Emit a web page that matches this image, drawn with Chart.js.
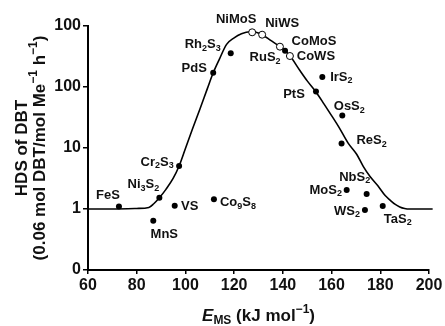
<!DOCTYPE html>
<html>
<head>
<meta charset="utf-8">
<script src="https://cdn.jsdelivr.net/npm/chart.js@4"></script>
<style>
  html, body { margin: 0; padding: 0; background: #fff; }
  #wrap { width: 445px; height: 326px; position: relative; }
</style>
</head>
<body>
<div id="wrap"><canvas id="volcano"></canvas></div>
<script>
// volcano curve (E_MS, HDS activity)
const curveX = [60, 70, 80, 85, 87, 89.3, 92, 95, 97.4, 100, 103, 106, 109, 111.4, 114, 116.9, 120, 123, 126.5, 129, 131.5, 135, 138.8, 140.9, 142.9, 147, 150, 153.6, 157, 160, 163, 166.8, 170.3, 173, 175.8, 179, 182, 184, 186, 188, 190, 192, 201.5];
const curveY = [1, 1, 1.02, 1.06, 1.22, 1.53, 2.1, 3.2, 5.07, 9.8, 21, 44, 94, 171, 290, 500, 640, 745, 805, 790, 720, 580, 458, 394, 324, 186, 126, 83, 52, 34, 22, 12, 7.9, 5, 3.4, 2.4, 1.66, 1.4, 1.2, 1.08, 1.02, 1, 1];

// unpromoted sulfides (filled dots)
const sulfideNames = ["FeS", "Ni_3S_2", "Cr_2S_3", "VS", "MnS", "Co_9S_8", "PdS", "Rh_2S_3", "RuS_2", "IrS_2", "PtS", "OsS_2", "ReS_2", "MoS_2", "NbS_2", "WS_2", "TaS_2"];
const sulfideX = [72.7, 89.3, 97.4, 95.6, 86.8, 111.7, 111.4, 118.6, 140.9, 156.2, 153.6, 164.4, 164.1, 166.2, 174.4, 173.7, 181];
const sulfideY = [1.1, 1.53, 5.07, 1.13, 0.64, 1.44, 171, 357, 394, 146, 84, 34, 11.9, 2.05, 1.76, 0.96, 1.12];

// promoted catalysts (open circles)
const promotedNames = ["NiMoS", "NiWS", "CoMoS", "CoWS"];
const promotedX = [127.4, 131.5, 138.8, 142.9];
const promotedY = [788, 720, 458, 322];

// y axis ticks as printed on the figure
const yTickValues = [0.1, 1, 10, 100, 1000];
const yTickLabels = ["0", "1", "10", "100", "100"];

const FONT = '"Liberation Sans", Arial, Helvetica, sans-serif';

// label placement relative to each point (px)
const labelOffsets = {
  "FeS": [-11, -11], "Ni_3S_2": [-16, -13], "Cr_2S_3": [-22, -4], "VS": [15, 1],
  "MnS": [11, 14], "Co_9S_8": [24, 3], "PdS": [-19, -4], "Rh_2S_3": [-28, -9],
  "RuS_2": [-20, 7], "IrS_2": [19, 0], "PtS": [-22, 3], "OsS_2": [7, -9],
  "ReS_2": [30, -3], "MoS_2": [-21, 0], "NbS_2": [-12, -17], "WS_2": [-18, 1],
  "TaS_2": [15, 13], "NiMoS": [-16, -13], "NiWS": [20, -11], "CoMoS": [34, -5],
  "CoWS": [26, 0]
};

// "_x" / "_{..}" subscript, "^{..}" superscript, "*..*" italic
function parseRich(s) {
  const segs = [];
  let italic = false, i = 0, buf = "";
  const flush = () => { if (buf) { segs.push({ t: buf, mode: 0, italic }); buf = ""; } };
  while (i < s.length) {
    const c = s[i];
    if (c === "*") { flush(); italic = !italic; i++; continue; }
    if (c === "_" || c === "^") {
      flush();
      let t;
      if (s[i + 1] === "{") {
        const end = s.indexOf("}", i);
        t = s.slice(i + 2, end);
        i = end + 1;
      } else {
        t = s[i + 1];
        i += 2;
      }
      segs.push({ t, mode: c === "_" ? -1 : 1, italic });
      continue;
    }
    buf += c;
    i++;
  }
  flush();
  return segs;
}

function segFont(seg, size) {
  const sz = seg.mode === 0 ? size : Math.round(size * 0.72);
  return (seg.italic ? "italic " : "") + "bold " + sz + "px " + FONT;
}

function drawRich(ctx, s, x, y, size) {
  const segs = parseRich(s);
  let w = 0;
  segs.forEach(seg => { ctx.font = segFont(seg, size); seg.w = ctx.measureText(seg.t).width; w += seg.w; });
  let cx = x - w / 2;
  ctx.textAlign = "left";
  ctx.textBaseline = "middle";
  segs.forEach(seg => {
    ctx.font = segFont(seg, size);
    const dy = seg.mode === -1 ? size * 0.3 : seg.mode === 1 ? -size * 0.35 : 0;
    ctx.fillText(seg.t, cx, y + dy);
    cx += seg.w;
  });
}

const labelPlugin = {
  id: "pointLabels",
  afterDatasetsDraw(chart) {
    const ctx = chart.ctx;
    const xs = chart.scales.x, ys = chart.scales.y;
    ctx.save();
    ctx.fillStyle = "#111";
    const put = (names, xv, yv) => names.forEach((n, i) => {
      const off = labelOffsets[n] || [0, -10];
      drawRich(ctx, n, xs.getPixelForValue(xv[i]) + off[0], ys.getPixelForValue(yv[i]) + off[1], 13);
    });
    put(sulfideNames, sulfideX, sulfideY);
    put(promotedNames, promotedX, promotedY);
    ctx.restore();
  },
  afterDraw(chart) {
    const ctx = chart.ctx;
    const a = chart.chartArea;
    const midY = (a.top + a.bottom) / 2;
    ctx.save();
    ctx.fillStyle = "#111";
    drawRich(ctx, "*E*_{MS} (kJ mol^{−1})", (a.left + a.right) / 2, 316, 17);
    ctx.translate(22, midY);
    ctx.rotate(-Math.PI / 2);
    drawRich(ctx, "HDS of DBT", 0, 0, 17);
    drawRich(ctx, "(0.06 mol DBT/mol Me^{−1} h^{−1})", 0, 18, 17);
    ctx.restore();
  }
};

new Chart(document.getElementById("volcano"), {
  type: "scatter",
  data: {
    datasets: [
      {
        label: "sulfides",
        data: sulfideX.map((x, i) => ({ x, y: sulfideY[i] })),
        pointRadius: 3,
        pointBackgroundColor: "#000",
        pointBorderColor: "#000",
        pointBorderWidth: 0,
        order: 1
      },
      {
        label: "promoted",
        data: promotedX.map((x, i) => ({ x, y: promotedY[i] })),
        pointRadius: 3.5,
        pointBackgroundColor: "#fff",
        pointBorderColor: "#000",
        pointBorderWidth: 1,
        order: 1
      },
      {
        label: "volcano",
        type: "line",
        data: curveX.map((x, i) => ({ x, y: curveY[i] })),
        borderColor: "#000",
        borderWidth: 1.6,
        pointRadius: 0,
        cubicInterpolationMode: "monotone",
        clip: false,
        order: 3
      }
    ]
  },
  options: {
    responsive: true,
    maintainAspectRatio: false,
    animation: false,
    events: [],
    layout: { padding: { left: 0, top: 26, right: 16, bottom: 0 } },
    plugins: {
      legend: { display: false },
      tooltip: { enabled: false }
    },
    scales: {
      x: {
        type: "linear",
        min: 60,
        max: 200,
        ticks: {
          stepSize: 20,
          color: "#111",
          padding: 2,
          font: { family: FONT, size: 16, weight: "bold" }
        },
        grid: { drawOnChartArea: false, color: "#000", lineWidth: 1.5, tickLength: 4 },
        border: { color: "#000", width: 2 },
        afterFit: s => { s.height = 56; }
      },
      y: {
        type: "logarithmic",
        min: 0.1,
        max: 1000,
        afterBuildTicks: s => { s.ticks = yTickValues.map(v => ({ value: v, major: true })); },
        ticks: {
          color: "#111",
          padding: 2,
          font: { family: FONT, size: 16, weight: "bold" },
          callback: (value, index) => yTickLabels[index]
        },
        grid: { drawOnChartArea: false, color: "#000", lineWidth: 1.5, tickLength: 5 },
        border: { color: "#000", width: 2 },
        afterFit: s => { s.width = 88; }
      }
    }
  },
  plugins: [labelPlugin]
});
</script>
</body>
</html>
